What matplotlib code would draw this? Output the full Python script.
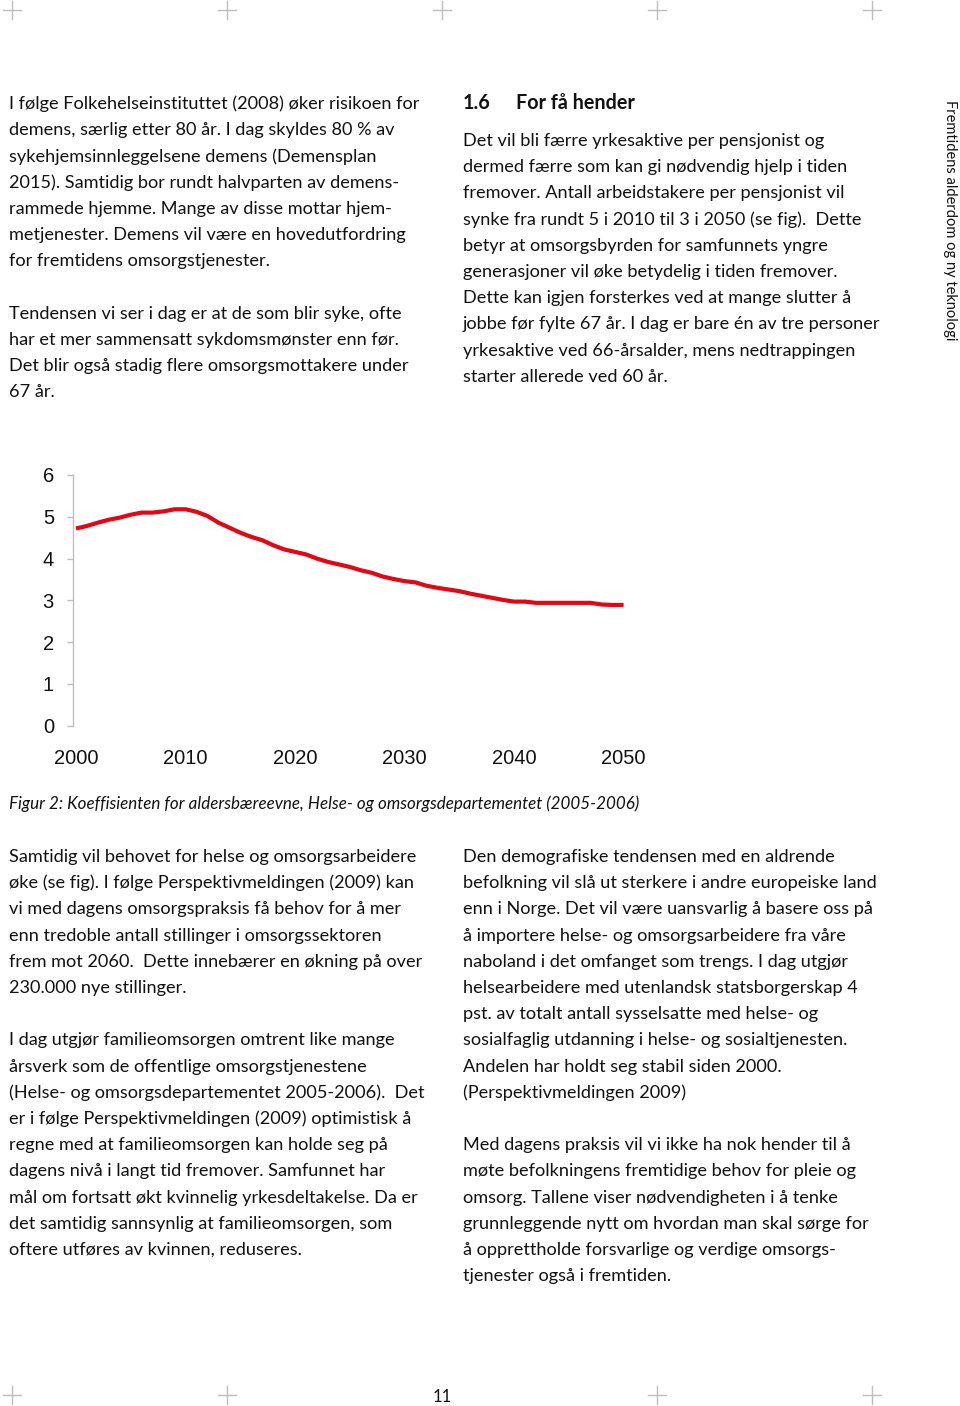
import numpy as np
import matplotlib
matplotlib.use("Agg")
import matplotlib.pyplot as plt
from matplotlib.lines import Line2D

# =============================================================================
# DATA
# =============================================================================

years = list(range(2000, 2051))
koeffisient = [
    4.72, 4.78, 4.86, 4.93, 4.98, 5.05, 5.10, 5.10, 5.13, 5.18,
    5.18, 5.12, 5.02, 4.86, 4.74, 4.62, 4.52, 4.44, 4.32, 4.22,
    4.16, 4.10, 4.00, 3.92, 3.86, 3.80, 3.72, 3.66, 3.57, 3.51,
    3.46, 3.43, 3.35, 3.30, 3.26, 3.22, 3.16, 3.11, 3.06, 3.01,
    2.97, 2.97, 2.94, 2.94, 2.94, 2.94, 2.94, 2.94, 2.90, 2.89,
    2.89,
]
x_ticks = [2000, 2010, 2020, 2030, 2040, 2050]
y_ticks = [0, 1, 2, 3, 4, 5, 6]

venstre_topp = [
    "I følge Folkehelseinstituttet (2008) øker risikoen for",
    "demens, særlig etter 80 år. I dag skyldes 80 % av",
    "sykehjemsinnleggelsene demens (Demensplan",
    "2015). Samtidig bor rundt halvparten av demens-",
    "rammede hjemme. Mange av disse mottar hjem-",
    "metjenester. Demens vil være en hovedutfordring",
    "for fremtidens omsorgstjenester.",
    "",
    "Tendensen vi ser i dag er at de som blir syke, ofte",
    "har et mer sammensatt sykdomsmønster enn før.",
    "Det blir også stadig flere omsorgsmottakere under",
    "67 år.",
]
hoyre_topp = [
    "Det vil bli færre yrkesaktive per pensjonist og",
    "dermed færre som kan gi nødvendig hjelp i tiden",
    "fremover. Antall arbeidstakere per pensjonist vil",
    "synke fra rundt 5 i 2010 til 3 i 2050 (se fig).  Dette",
    "betyr at omsorgsbyrden for samfunnets yngre",
    "generasjoner vil øke betydelig i tiden fremover.",
    "Dette kan igjen forsterkes ved at mange slutter å",
    "jobbe før fylte 67 år. I dag er bare én av tre personer",
    "yrkesaktive ved 66-årsalder, mens nedtrappingen",
    "starter allerede ved 60 år.",
]
venstre_bunn = [
    "Samtidig vil behovet for helse og omsorgsarbeidere",
    "øke (se fig). I følge Perspektivmeldingen (2009) kan",
    "vi med dagens omsorgspraksis få behov for å mer",
    "enn tredoble antall stillinger i omsorgssektoren",
    "frem mot 2060.  Dette innebærer en økning på over",
    "230.000 nye stillinger.",
    "",
    "I dag utgjør familieomsorgen omtrent like mange",
    "årsverk som de offentlige omsorgstjenestene",
    "(Helse- og omsorgsdepartementet 2005-2006).  Det",
    "er i følge Perspektivmeldingen (2009) optimistisk å",
    "regne med at familieomsorgen kan holde seg på",
    "dagens nivå i langt tid fremover. Samfunnet har",
    "mål om fortsatt økt kvinnelig yrkesdeltakelse. Da er",
    "det samtidig sannsynlig at familieomsorgen, som",
    "oftere utføres av kvinnen, reduseres.",
]
hoyre_bunn = [
    "Den demografiske tendensen med en aldrende",
    "befolkning vil slå ut sterkere i andre europeiske land",
    "enn i Norge. Det vil være uansvarlig å basere oss på",
    "å importere helse- og omsorgsarbeidere fra våre",
    "naboland i det omfanget som trengs. I dag utgjør",
    "helsearbeidere med utenlandsk statsborgerskap 4",
    "pst. av totalt antall sysselsatte med helse- og",
    "sosialfaglig utdanning i helse- og sosialtjenesten.",
    "Andelen har holdt seg stabil siden 2000.",
    "(Perspektivmeldingen 2009)",
    "",
    "Med dagens praksis vil vi ikke ha nok hender til å",
    "møte befolkningens fremtidige behov for pleie og",
    "omsorg. Tallene viser nødvendigheten i å tenke",
    "grunnleggende nytt om hvordan man skal sørge for",
    "å opprettholde forsvarlige og verdige omsorgs-",
    "tjenester også i fremtiden.",
]
figurtekst = "Figur 2: Koeffisienten for aldersbæreevne, Helse- og omsorgsdepartementet (2005-2006)"
overskrift_nr = "1.6"
overskrift = "For få hender"
sidetittel = "Fremtidens alderdom og ny teknologi"
sidetall = "11"
kryss_topp = [12, 227, 442, 657, 872]
kryss_bunn = [12, 227, 657, 872]

# =============================================================================
# FIGUR
# =============================================================================

W, H = 960, 1406
fig = plt.figure(figsize=(W / 100, H / 100), dpi=100)
fig.patch.set_facecolor("white")

TEKST_FONT = ["Lato", "DejaVu Sans"]
FS = 13.1
LINJE = 26.2


def px_tekst(x, y, s, **kw):
    # plasser tekst med pikselkoordinater (y fra toppen)
    kw.setdefault("family", TEKST_FONT)
    kw.setdefault("fontsize", FS)
    kw.setdefault("va", "center")
    kw.setdefault("color", "#111111")
    fig.text(x / W, 1 - y / H, s, **kw)


def avsnitt(x, y0, linjer):
    for i, linje in enumerate(linjer):
        if linje:
            px_tekst(x, y0 + i * LINJE, linje)


avsnitt(9, 104, venstre_topp)
px_tekst(463, 103, overskrift_nr, fontweight="bold", fontsize=14.2)
px_tekst(516, 103, overskrift, fontweight="bold", fontsize=14.2)
avsnitt(463, 141, hoyre_topp)
px_tekst(950, 220, sidetittel, rotation=-90, ha="center", fontsize=10.5)

px_tekst(9, 804, figurtekst, style="italic", fontsize=12.25)
avsnitt(9, 857, venstre_bunn)
avsnitt(463, 857, hoyre_bunn)
px_tekst(442, 1397, sidetall, ha="center", fontsize=12)

# beskjæringsmerker
for y, xs in [(10, kryss_topp), (1395, kryss_bunn)]:
    for x in xs:
        fig.add_artist(Line2D([(x - 9) / W, (x + 9) / W], [1 - y / H] * 2,
                              color="#bdbdbd", lw=1))
        fig.add_artist(Line2D([x / W] * 2, [1 - (y - 9) / H, 1 - (y + 9) / H],
                              color="#bdbdbd", lw=1))

# =============================================================================
# DIAGRAM
# =============================================================================

ax_l, ax_r, ax_t, ax_b = 72.7, 640, 475, 725.7
ax = fig.add_axes([ax_l / W, 1 - ax_b / H, (ax_r - ax_l) / W, (ax_b - ax_t) / H])
ax.plot(years, koeffisient, color="#e30613", lw=3.0, solid_capstyle="butt")
ax.set_ylim(0, 6)
ax.set_xlim(1999.7, 2051.5)
ax.set_xticks(x_ticks)
ax.set_yticks(y_ticks)
for s in ["top", "right", "bottom"]:
    ax.spines[s].set_visible(False)
ax.spines["left"].set_color("#bdbdbd")
ax.spines["left"].set_linewidth(1)
ax.tick_params(axis="y", length=4, width=1, color="#bdbdbd", pad=9.5,
               labelsize=14.5, labelcolor="#111111")
ax.tick_params(axis="x", length=0, pad=16.5, labelsize=14.5, labelcolor="#111111")
for lab in ax.get_xticklabels() + ax.get_yticklabels():
    lab.set_family(["Liberation Sans", "DejaVu Sans"])
ax.set_facecolor("none")

fig.savefig("out.png", dpi=100)
